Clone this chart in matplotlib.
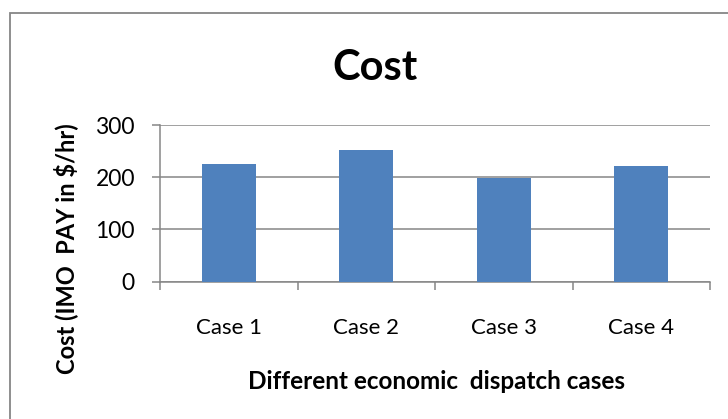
import matplotlib
matplotlib.use("Agg")
import matplotlib.pyplot as plt
import matplotlib.ticker as ticker
from matplotlib.patches import Rectangle
import numpy as np

cases = ["Case 1", "Case 2", "Case 3", "Case 4"]
cost = [225, 252, 199, 221.5]
y_ticks = [0, 100, 200, 300]

plt.rcParams["font.family"] = ["Lato", "DejaVu Sans"]

W, H = 728, 419
fig = plt.figure(figsize=(W / 100, H / 100), dpi=100)

gris = "#868686"
bleu = "#4F81BD"

# zone du graphique (coordonnees en pixels converties en fractions)
x0, x1 = 160, 710
y0, y1 = 281.7, 125
ax = fig.add_axes([x0 / W, 1 - y0 / H, (x1 - x0) / W, (y0 - y1) / H])

pos = np.arange(len(cases)) + 0.5
ax.bar(pos, cost, width=0.39, color=bleu, zorder=3)

ax.set_xlim(0, len(cases))
ax.set_ylim(0, 300)

ax.set_yticks(y_ticks)
ax.yaxis.grid(True, color=gris, linewidth=1.1, zorder=0)
ax.tick_params(axis="y", direction="out", length=6, width=1.1, color=gris,
               labelsize=16.5, pad=12)

# graduations aux limites des categories, etiquettes au centre
ax.xaxis.set_major_locator(ticker.FixedLocator(np.arange(len(cases) + 1)))
ax.xaxis.set_major_formatter(ticker.NullFormatter())
ax.xaxis.set_minor_locator(ticker.FixedLocator(pos))
ax.xaxis.set_minor_formatter(ticker.FixedFormatter(cases))
ax.tick_params(axis="x", which="major", direction="out", length=6, width=1.1, color=gris)
ax.tick_params(axis="x", which="minor", length=0, labelsize=16, pad=26)

for s in ["top", "right"]:
    ax.spines[s].set_visible(False)
for s in ["left", "bottom"]:
    ax.spines[s].set_color(gris)
    ax.spines[s].set_linewidth(1.1)

# cadre du graphique
fig.patches.append(Rectangle((9.5 / W, -0.1), 1.2, 1.1 - 13.5 / H,
                             transform=fig.transFigure, fill=False,
                             edgecolor=gris, linewidth=1.3))

fig.text(375 / W, 1 - 80 / H, "Cost", ha="center", va="baseline",
         fontsize=30, fontweight="bold")
fig.text(66 / W, 1 - 249 / H, "Cost (IMO  PAY in $/hr)", ha="center", va="center",
         rotation=90, fontsize=17, fontweight="bold")
fig.text(437 / W, 1 - 389 / H, "Different economic  dispatch cases", ha="center",
         va="baseline", fontsize=17.5, fontweight="bold")

fig.savefig("out.png", dpi=100)
